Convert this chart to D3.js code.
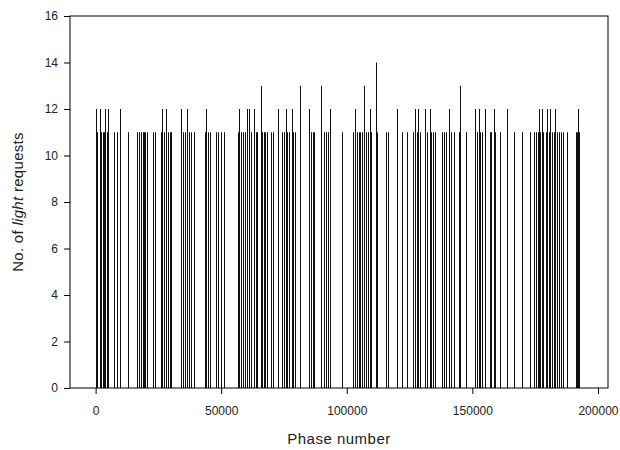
<!DOCTYPE html>
<html lang="en">
  <head>
    <meta charset="UTF-8" />
    <title>Light requests per phase</title>
    <script src="https://d3js.org/d3.v7.min.js"></script>
    <style>
      body { margin: 0; background: #fff; }
      svg { display: block; font-family: "Liberation Sans", Arial, sans-serif; }
      .axis text { font-size: 12px; fill: #222; }
      .axis path, .axis line { stroke: #000; }
      .bar { stroke: #111; stroke-width: 1; }
    </style>
  </head>
  <body>
    <svg id="chart" width="620" height="450"></svg>
    <script>
      // phase numbers where light requests happened, and the count at each
      const phases = [
        0, 600, 1700, 2200, 2800, 3400, 3900, 4400, 5000, 7400, 8400, 9900, 12700,
        16600, 17300, 18100, 18700, 19300, 19800, 20600, 22900, 23800, 25900, 26500,
        27300, 28200, 28900, 29700, 30200,
        33900, 34600, 35400, 36500, 37200, 38000, 39200, 43600, 44100, 44800, 45500,
        47800, 48600, 50100, 51100,
        56700, 57200, 57900, 58700, 59500, 60100, 61200, 61900, 63000, 63700, 64300,
        65700, 66300, 66900, 67500, 68100,
        69800, 70600, 72600, 74200, 75000, 75600, 76200, 77000, 78000, 78600, 79400,
        81300, 84900, 85600, 86400, 87000, 89900, 90900, 91700, 92500, 93300,
        98200, 102300, 103200, 103900, 104700, 105300, 106100, 106900, 107700, 108500,
        109100, 109600, 111600, 112200,
        115500, 116600, 120000, 121800, 124100, 126400, 127000, 127800, 128400, 129000,
        131300, 132100, 133000, 133700, 134500, 135100,
        138100, 138900, 139700, 140600, 141300, 142800, 144500, 145200, 147600,
        150900, 151800, 152600, 153200, 154000, 154900, 156900, 157600, 158500, 159100,
        160900,
        163900, 166400, 169900, 172800, 174400, 175200, 176100, 176500, 177100, 177700,
        178300, 179500, 179800, 180500, 181000, 181800, 182500, 183000, 183700, 184500,
        185300, 186100, 187800, 191100, 191600, 192000, 192600
      ];
      const requests = [
        12, 11, 12, 11, 11, 11, 12, 11, 12, 11, 11, 12, 11,
        11, 11, 11, 11, 11, 11, 11, 11, 11, 11, 12,
        11, 12, 11, 11, 11,
        12, 11, 11, 12, 11, 11, 11, 11, 12, 11, 11,
        11, 11, 11, 11,
        11, 12, 11, 11, 11, 12, 12, 11, 12, 11, 11,
        13, 11, 11, 11, 11,
        11, 11, 12, 11, 11, 12, 11, 11, 12, 11, 11,
        13, 12, 11, 11, 11, 13, 11, 11, 11, 12,
        11, 11, 12, 11, 11, 11, 11, 13, 11, 11,
        12, 11, 14, 11,
        11, 11, 12, 11, 11, 11, 12, 11, 12, 11,
        12, 11, 12, 11, 11, 11,
        11, 11, 11, 12, 11, 11, 11, 13, 11,
        12, 11, 12, 11, 11, 12, 11, 11, 12, 11,
        11,
        12, 11, 11, 11, 11, 11, 11, 12, 11, 12,
        11, 11, 12, 11, 12, 11, 11, 12, 11, 11,
        11, 11, 11, 11, 11, 12, 11
      ];
      const xTicks = [0, 50000, 100000, 150000, 200000];
      const yTicks = [0, 2, 4, 6, 8, 10, 12, 14, 16];

      const width = 620;
      const height = 450;
      const margin = { top: 16, right: 12, bottom: 62, left: 70 };

      const x = d3.scaleLinear()
        .domain([-10200, 204000])
        .range([margin.left, width - margin.right]);
      const y = d3.scaleLinear()
        .domain([0, 16])
        .range([height - margin.bottom, margin.top]);

      const svg = d3.select("#chart");

      // bars as thin vertical lines
      svg.append("g")
        .selectAll("line")
        .data(phases)
        .join("line")
        .attr("class", "bar")
        .attr("x1", d => Math.round(x(d)) + 0.5)
        .attr("x2", d => Math.round(x(d)) + 0.5)
        .attr("y1", y(0))
        .attr("y2", (d, i) => y(requests[i]));

      // frame
      svg.append("rect")
        .attr("x", margin.left)
        .attr("y", margin.top)
        .attr("width", width - margin.left - margin.right)
        .attr("height", height - margin.top - margin.bottom)
        .attr("fill", "none")
        .attr("stroke", "#000");

      svg.append("g")
        .attr("class", "axis")
        .attr("transform", `translate(0,${height - margin.bottom})`)
        .call(d3.axisBottom(x).tickValues(xTicks).tickFormat(d3.format("d"))
          .tickSize(6).tickPadding(12).tickSizeOuter(0));

      svg.append("g")
        .attr("class", "axis")
        .attr("transform", `translate(${margin.left},0)`)
        .call(d3.axisLeft(y).tickValues(yTicks).tickSize(6).tickPadding(6).tickSizeOuter(0));

      svg.selectAll(".axis .domain").remove();

      // axis titles
      svg.append("text")
        .attr("x", (margin.left + width - margin.right) / 2)
        .attr("y", 444)
        .attr("text-anchor", "middle")
        .attr("font-size", 15)
        .attr("fill", "#222")
        .attr("letter-spacing", "0.5px")
        .text("Phase number");

      const yTitle = svg.append("text")
        .attr("transform", `translate(23,${(margin.top + height - margin.bottom) / 2}) rotate(-90)`)
        .attr("text-anchor", "middle")
        .attr("font-size", 15)
        .attr("fill", "#222")
        .attr("letter-spacing", "0.3px");
      yTitle.append("tspan").text("No. of ");
      yTitle.append("tspan").attr("font-style", "italic").text("light");
      yTitle.append("tspan").text(" requests");
    </script>
  </body>
</html>
